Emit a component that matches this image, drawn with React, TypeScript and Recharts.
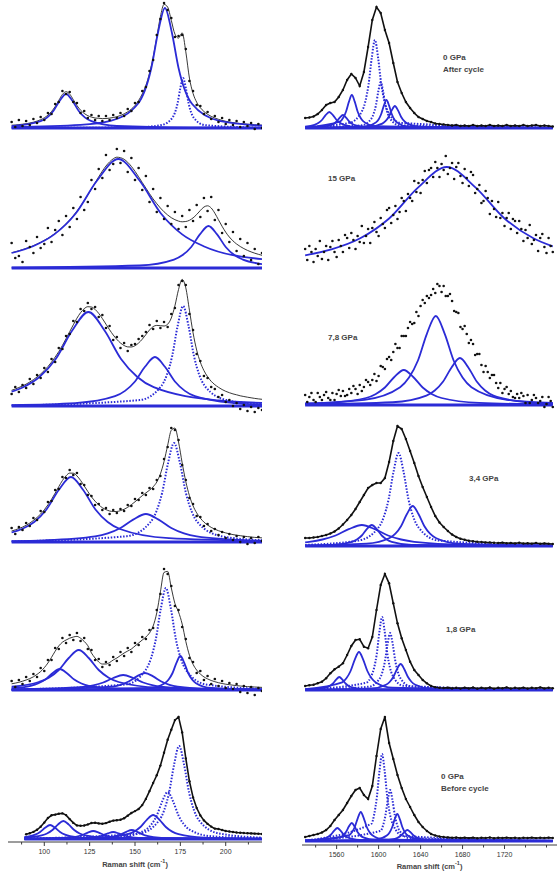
import React from "react";
import { ComposedChart, Line, XAxis, YAxis } from "recharts";

type Pt = [number, number];

// x grids (cm-1)
const X_LEFT = [
  82, 84, 86, 88, 90, 92, 94, 96, 98, 100,
  102, 104, 106, 108, 110, 112, 114, 116, 118, 120,
  122, 124, 126, 128, 130, 132, 134, 136, 138, 140,
  142, 144, 146, 148, 150, 152, 154, 156, 158, 160,
  162, 164, 166, 168, 170, 172, 174, 176, 178, 180,
  182, 184, 186, 188, 190, 192, 194, 196, 198, 200,
  202, 204, 206, 208, 210, 212, 214, 216, 218, 220,
];
const X_RIGHT = [
  1530, 1534, 1538, 1542, 1546, 1550, 1554, 1558, 1562, 1566,
  1570, 1574, 1578, 1582, 1586, 1590, 1594, 1598, 1602, 1606,
  1610, 1614, 1618, 1622, 1626, 1630, 1634, 1638, 1642, 1646,
  1650, 1654, 1658, 1662, 1666, 1670, 1674, 1678, 1682, 1686,
  1690, 1694, 1698, 1702, 1706, 1710, 1714, 1718, 1722, 1726,
  1730, 1734, 1738, 1742, 1746, 1750, 1754, 1758, 1762, 1766,
];
const X_RIGHT_FINE = [
  1530, 1532, 1534, 1536, 1538, 1540, 1542, 1544, 1546, 1548,
  1550, 1552, 1554, 1556, 1558, 1560, 1562, 1564, 1566, 1568,
  1570, 1572, 1574, 1576, 1578, 1580, 1582, 1584, 1586, 1588,
  1590, 1592, 1594, 1596, 1598, 1600, 1602, 1604, 1606, 1608,
  1610, 1612, 1614, 1616, 1618, 1620, 1622, 1624, 1626, 1628,
  1630, 1632, 1634, 1636, 1638, 1640, 1642, 1644, 1646, 1648,
  1650, 1652, 1654, 1656, 1658, 1660, 1662, 1664, 1666, 1668,
  1670, 1672, 1674, 1676, 1678, 1680, 1682, 1684, 1686, 1688,
  1690, 1692, 1694, 1696, 1698, 1700, 1702, 1704, 1706, 1708,
  1710, 1712, 1714, 1716, 1718, 1720, 1722, 1724, 1726, 1728,
  1730, 1732, 1734, 1736, 1738, 1740, 1742, 1744, 1746, 1748,
  1750, 1752, 1754, 1756, 1758, 1760, 1762, 1764, 1766,
];

const LEFT_TICKS = [87.5, 100, 112.5, 125, 137.5, 150, 162.5, 175, 187.5, 200, 212.5];
const LEFT_LABELS = [100, 125, 150, 175, 200];
const RIGHT_TICKS = [1540, 1560, 1580, 1600, 1620, 1640, 1660, 1680, 1700, 1720, 1740, 1760];
const RIGHT_LABELS = [1560, 1600, 1640, 1680, 1720];

// ---- left column (low wavenumber) ----
const L1_DATA = [
  6, 1, 8, 2, 7, 3, 9, 5, 11, 8,
  15, 14, 24, 26, 37, 34, 36, 26, 25, 15,
  17, 10, 13, 8, 12, 7, 12, 8, 13, 10,
  15, 12, 19, 17, 25, 26, 37, 41, 57, 68,
  93, 109, 125, 118, 110, 91, 92, 93, 79, 47,
  37, 23, 22, 14, 16, 9, 12, 6, 10, 4,
  8, 3, 7, 1, 6, 2, 5, -1, 4, 0,
];
const L1_FIT = [
  2.8, 3.0, 3.4, 3.8, 4.3, 5.0, 5.8, 6.9, 8.3, 10.2,
  12.9, 16.5, 21.5, 27.6, 33.6, 36.3, 33.9, 28.3, 22.5, 17.8,
  14.6, 12.3, 10.9, 10.0, 9.7, 9.4, 9.5, 9.9, 10.5, 11.3,
  12.5, 14.1, 16.2, 18.9, 22.5, 27.5, 34.1, 42.6, 54.8, 70.8,
  90.9, 111.3, 123.6, 120.9, 107.7, 93.9, 89.9, 95.2, 76.2, 49.9,
  34.6, 25.8, 20.3, 16.5, 13.7, 11.6, 10.0, 8.7, 7.6, 6.7,
  6.0, 5.4, 4.9, 4.5, 4.1, 3.8, 3.5, 3.2, 3.0, 2.8,
];
const L1_PEAKS: Pt[][] = [
  [[82, 1.8], [98, 6.8], [105, 17], [108.5, 27.2], [112, 34], [115.5, 27.2], [119, 17], [126, 6.8], [140, 2.0], [180, 0.36], [220, 0.14]],
  [[82, 0.9], [120, 3.1], [136.5, 7.1], [151.5, 24], [159, 60], [162.75, 96], [166.5, 120], [170.25, 96], [174, 60], [181.5, 24], [196.5, 7.1], [220, 2.3]],
  [[82, 0.05], [150, 0.6], [164.5, 2.9], [170.5, 10], [173.5, 25], [175, 40], [176.5, 50], [178, 40], [179.5, 25], [182.5, 10], [188.5, 2.9], [220, 0.24]],
];

const L2_DATA = [
  25, 10, 12, 6, 27, 21, 15, 31, 20, 24,
  40, 26, 38, 47, 33, 52, 41, 60, 49, 71,
  58, 66, 88, 79, 99, 90, 113, 98, 104, 119,
  105, 117, 96, 110, 88, 100, 78, 92, 66, 79,
  56, 70, 49, 62, 44, 56, 39, 52, 41, 58,
  47, 63, 51, 70, 57, 71, 48, 58, 35, 44,
  26, 36, 17, 29, 12, 25, 8, 19, 4, 15,
];
const L2_FIT = [
  15.3, 16.2, 17.3, 18.4, 19.6, 20.9, 22.3, 24.0, 25.7, 27.7,
  29.7, 32.1, 34.7, 37.5, 40.7, 44.2, 48.0, 52.3, 56.9, 61.9,
  67.3, 73.0, 79.0, 85.1, 91.2, 96.9, 102.0, 106.1, 109.2, 110.8,
  110.3, 108.7, 105.7, 101.6, 96.7, 91.2, 85.5, 79.9, 74.3, 69.0,
  64.3, 60.0, 56.2, 53.0, 50.3, 48.3, 46.9, 46.2, 46.5, 47.7,
  50.1, 53.5, 57.5, 61.0, 62.2, 60.0, 54.8, 48.2, 41.7, 35.8,
  31.0, 27.1, 24.0, 21.5, 19.4, 17.6, 16.1, 14.8, 13.7, 12.7,
];
const L2_PEAKS: Pt[][] = [
  [[82, 15], [93.8, 21.8], [105.5, 33.6], [117.3, 54.5], [129, 87.2], [140.8, 109], [152.6, 87.2], [164.3, 54.5], [176, 33.6], [187.8, 21.8], [220, 8.8]],
  [[82, 0.3], [152.5, 2.5], [171.5, 8.4], [176.25, 12.9], [181, 21], [185.75, 33.6], [190.5, 42], [195.25, 33.6], [200, 21], [204.75, 12.9], [209.5, 8.4], [220, 3.9]],
];

const L3_DATA = [
  12, 19, 14, 21, 18, 27, 22, 31, 28, 38,
  34, 47, 44, 58, 57, 70, 72, 85, 84, 97,
  95, 103, 97, 99, 89, 91, 78, 80, 66, 69,
  58, 63, 55, 61, 62, 67, 70, 74, 81, 77,
  85, 78, 84, 79, 92, 98, 121, 125, 121, 92,
  76, 52, 45, 30, 28, 19, 17, 9, 11, 4,
  6, 0, 3, -3, 1, -5, -1, -6, -2, -4,
];
const L3_FIT = [
  15.7, 17.0, 18.5, 20.0, 21.9, 24.0, 26.3, 29.0, 32.0, 35.5,
  39.4, 43.9, 48.9, 54.4, 60.6, 67.3, 74.3, 81.2, 87.8, 93.3,
  97.3, 99.3, 99.0, 96.6, 92.6, 87.5, 81.8, 76.2, 71.0, 66.6,
  63.0, 60.5, 59.1, 59.0, 60.3, 63.0, 66.8, 71.4, 76.0, 79.4,
  80.6, 80.3, 80.0, 81.8, 88.0, 100.2, 116.5, 126.6, 118.1, 95.8,
  73.2, 55.9, 43.9, 35.4, 29.3, 24.7, 21.3, 18.7, 16.5, 14.7,
  13.3, 12.1, 11.2, 10.2, 9.5, 8.8, 8.2, 7.6, 7.1, 6.7,
];
const L3_PEAKS: Pt[][] = [
  [[82, 14.4], [88.3, 18.8], [97.3, 29], [106.3, 47], [115.3, 75.2], [124.3, 94], [133.3, 75.2], [142.3, 47], [151.3, 29], [160.3, 18.8], [196.3, 5.5], [220, 3.2]],
  [[82, 0.9], [117, 2.9], [139, 9.8], [144.5, 15.1], [150, 24.5], [155.5, 39.2], [161, 49], [166.5, 39.2], [172, 24.5], [177.5, 15.1], [183, 9.8], [205, 2.9], [220, 1.6]],
  [[82, 0.4], [152.5, 5.9], [164.5, 20], [167.5, 30.8], [170.5, 50], [173.5, 80], [176.5, 100], [179.5, 80], [182.5, 50], [185.5, 30.8], [188.5, 20], [200.5, 5.9], [220, 1.9]],
];

const L4_DATA = [
  14, 8, 15, 12, 19, 16, 24, 22, 31, 30,
  40, 41, 52, 53, 65, 64, 72, 67, 69, 58,
  57, 47, 46, 37, 38, 32, 34, 28, 32, 29,
  33, 31, 37, 36, 43, 42, 49, 47, 54, 53,
  62, 66, 83, 95, 114, 112, 102, 77, 62, 44,
  38, 26, 25, 16, 18, 11, 13, 7, 10, 4,
  8, 2, 6, 0, 5, -2, 4, -1, 5, 1,
];
const L4_FIT = [
  11.0, 12.1, 13.5, 14.9, 16.7, 18.9, 21.5, 24.5, 28.0, 32.2,
  37.1, 42.7, 48.9, 55.4, 61.5, 66.2, 68.9, 68.8, 66.1, 61.6,
  56.1, 50.5, 45.2, 40.8, 37.2, 34.3, 32.4, 31.0, 30.5, 30.5,
  31.4, 32.7, 34.7, 37.3, 40.2, 43.3, 46.3, 49.1, 51.8, 55.2,
  60.0, 68.1, 80.4, 96.7, 111.7, 113.9, 100.0, 79.1, 60.4, 46.3,
  36.2, 29.1, 23.9, 19.9, 17.0, 14.6, 12.8, 11.3, 10.1, 9.1,
  8.2, 7.4, 6.8, 6.3, 5.8, 5.4, 5.0, 4.6, 4.4, 4.1,
];
const L4_PEAKS: Pt[][] = [
  [[82, 9.5], [87.7, 13], [94.45, 20], [101.2, 32.5], [107.95, 52], [114.7, 65], [121.45, 52], [128.2, 32.5], [134.95, 20], [141.7, 13], [168.7, 3.8], [220, 1.05]],
  [[82, 0.97], [100, 1.65], [128, 5.6], [135, 8.6], [142, 14], [149, 22.4], [156, 28], [163, 22.4], [170, 14], [177, 8.6], [184, 5.6], [212, 1.65], [220, 1.3]],
  [[82, 0.5], [145.5, 5.8], [158.5, 19.8], [161.75, 30.5], [165, 49.5], [168.25, 79.2], [171.5, 99], [174.75, 79.2], [178, 49.5], [181.25, 30.5], [184.5, 19.8], [197.5, 5.8], [220, 1.75]],
];

const L5_DATA = [
  9, 3, 10, 6, 13, 9, 16, 13, 22, 19,
  30, 30, 42, 41, 52, 47, 55, 50, 57, 49,
  52, 41, 40, 30, 31, 23, 28, 25, 33, 29,
  38, 34, 42, 38, 47, 45, 53, 51, 60, 62,
  80, 96, 121, 116, 104, 84, 80, 63, 51, 32,
  28, 17, 19, 10, 14, 6, 11, 4, 9, 2,
  7, 1, 6, -2, 4, -3, 3, -5, 2, -1,
];
const L5_FIT = [
  6.2, 6.9, 7.7, 8.8, 10.0, 11.4, 13.2, 15.6, 18.5, 22.3,
  27.0, 32.7, 38.8, 44.1, 47.8, 50.0, 51.8, 53.0, 53.6, 51.8,
  48.6, 44.3, 37.0, 32.0, 28.0, 26.0, 26.0, 27.5, 30.0, 32.0,
  34.5, 37.0, 39.0, 41.0, 44.0, 47.0, 50.0, 53.0, 57.0, 64.0,
  77.2, 98.1, 117.6, 118.6, 102.1, 86.6, 78.0, 66.0, 48.6, 34.8,
  25.7, 19.9, 16.0, 13.1, 11.1, 9.5, 8.3, 7.3, 6.5, 5.8,
  5.3, 4.8, 4.4, 4.0, 3.7, 3.4, 3.2, 3.0, 2.8, 2.6,
];
const L5_PEAKS: Pt[][] = [
  [[82, 1.75], [92.5, 4.2], [96.5, 6.5], [100.5, 10.5], [104.5, 16.8], [108.5, 21], [112.5, 16.8], [116.5, 10.5], [120.5, 6.5], [124.5, 4.2], [140.5, 1.24], [220, 0.1]],
  [[82, 3.25], [97, 8], [102.5, 12.3], [108, 20], [113.5, 32], [119, 40], [124.5, 32], [130, 20], [135.5, 12.3], [141, 8], [163, 2.35], [220, 0.46]],
  [[82, 0.46], [121.5, 3], [127, 4.6], [132.5, 7.5], [138, 12], [143.5, 15], [149, 12], [154.5, 7.5], [160, 4.6], [165.5, 3], [187.5, 0.88], [220, 0.31]],
  [[82, 0.25], [137.5, 3.4], [142, 5.2], [146.5, 8.5], [151, 13.6], [155.5, 17], [160, 13.6], [164.5, 8.5], [169, 5.2], [173.5, 3.4], [191.5, 1.0], [220, 0.35]],
  [[82, 0.43], [145, 5.6], [156, 20.4], [158.75, 31.4], [161.5, 51], [164.25, 81.6], [167, 102], [169.75, 81.6], [172.5, 51], [175.25, 31.4], [178, 20.4], [189, 5.6], [220, 1.08]],
  [[82, 0.07], [157.8, 2.0], [166.4, 6.8], [168.55, 10.5], [170.7, 17], [172.85, 27.2], [175, 34], [177.15, 27.2], [179.3, 17], [181.45, 10.5], [183.6, 6.8], [192.2, 2.0], [220, 0.31]],
];

const L6_DATA: (number | null)[] = [
  null, null, null, null, 4.8, 5.7, 7.1, 9.2, 12.2, 16.4,
  21.0, 23.7, 24.4, 25.2, 25.6, 23.9, 19.9, 16.1, 13.6, 13.3,
  13.5, 14.6, 16.0, 16.3, 15.6, 15.3, 15.9, 17.2, 18.4, 18.8,
  19.2, 20.8, 23.3, 26.0, 27.9, 30.0, 33.9, 40.1, 47.9, 56.0,
  63.7, 73.4, 86.3, 99.2, 109.3, 118.9, 122.1, 106.6, 80.6, 57.7,
  41.6, 31.0, 23.6, 18.6, 15.1, 12.4, 10.4, 10.0, 9.0, 8.0,
  7.5, 7.0, 6.5, 6.3, 6.0, 5.8, 5.6, 5.4, 5.2, 5.0,
];
const L6_PEAKS: Pt[][] = [
  [[89, 1.9], [92.2, 2.8], [94.95, 4.3], [97.7, 7], [100.45, 11.2], [103.2, 14], [105.95, 11.2], [108.7, 7], [111.45, 4.3], [114.2, 2.8], [125.2, 0.82], [220, 0.03]],
  [[89, 1.3], [98.5, 3.6], [101.5, 5.5], [104.5, 9], [107.5, 14.4], [110.5, 18], [113.5, 14.4], [116.5, 9], [119.5, 5.5], [122.5, 3.6], [134.5, 1.06], [220, 0.05]],
  [[89, 0.19], [115, 1.6], [118, 2.46], [121, 4], [124, 6.4], [127, 8], [130, 6.4], [133, 4], [136, 2.46], [139, 1.6], [151, 0.47], [220, 0.03]],
  [[89, 0.1], [126, 1.4], [129, 2.15], [132, 3.5], [135, 5.6], [138, 7], [141, 5.6], [144, 3.5], [147, 2.15], [150, 1.4], [162, 0.41], [220, 0.04]],
  [[89, 0.09], [136.2, 1.8], [139.2, 2.8], [142.2, 4.5], [145.2, 7.2], [148.2, 9], [151.2, 7.2], [154.2, 4.5], [157.2, 2.8], [160.2, 1.8], [172.2, 0.53], [220, 0.06]],
  [[89, 0.23], [132, 1.41], [146, 4.8], [149.5, 7.4], [153, 12], [156.5, 19.2], [160, 24], [163.5, 19.2], [167, 12], [170.5, 7.4], [174, 4.8], [188, 1.41], [220, 0.32]],
  [[89, 0.27], [144, 2.76], [156, 9.4], [159, 14.5], [162, 23.5], [165, 37.6], [168, 47], [171, 37.6], [174, 23.5], [177, 14.5], [180, 9.4], [192, 2.76], [220, 0.61]],
  [[89, 0.39], [152.3, 5.5], [163.3, 18.6], [166.05, 28.6], [168.8, 46.5], [171.55, 74.4], [174.3, 93], [177.05, 74.4], [179.8, 46.5], [182.55, 28.6], [185.3, 18.6], [196.3, 5.5], [220, 1.31]],
];

// ---- right column (G band) ----
const R1_DATA = [
  10, 10.5, 11.5, 14, 18, 23, 25, 26, 31, 38,
  48, 54, 50, 42, 56, 81, 108, 121, 115, 98,
  85, 65, 46, 35, 26, 20, 15, 11, 9, 7,
  6, 4.5, 4, 3.5, 3, 2.5, 3, 2, 2.5, 2,
  3, 2, 2.5, 2, 3, 2, 2.5, 2, 3, 2,
  2.5, 2, 3, 2, 2.5, 3, 2, 2.5, 2, 1.5,
];
const R1_PEAKS: Pt[][] = [
  [[1530, 1.36], [1539, 3.2], [1542.5, 4.9], [1546, 8], [1549.5, 12.8], [1553, 16], [1556.5, 12.8], [1560, 8], [1563.5, 4.9], [1567, 3.2], [1581, 0.94], [1766, 0.02]],
  [[1530, 0.36], [1554, 2.6], [1557, 4], [1560, 6.5], [1563, 10.4], [1566, 13], [1569, 10.4], [1572, 6.5], [1575, 4], [1578, 2.6], [1590, 0.77], [1766, 0.01]],
  [[1530, 0.5], [1563.5, 6.6], [1566.25, 10.2], [1569, 16.5], [1571.75, 26.4], [1574.5, 33], [1577.25, 26.4], [1580, 16.5], [1582.75, 10.2], [1585.5, 6.6], [1596.5, 1.94], [1766, 0.03]],
  [[1530, 0.71], [1572.5, 5.2], [1584.5, 17.6], [1587.5, 27.1], [1590.5, 44], [1593.5, 70.4], [1596.5, 88], [1599.5, 70.4], [1602.5, 44], [1605.5, 27.1], [1608.5, 17.6], [1620.5, 5.2], [1766, 0.11]],
  [[1530, 0.18], [1584, 2.7], [1593, 9.2], [1595.25, 14.2], [1597.5, 23], [1599.75, 36.8], [1602, 46], [1604.25, 36.8], [1606.5, 23], [1608.75, 14.2], [1611, 9.2], [1620, 2.7], [1766, 0.03]],
  [[1530, 0.12], [1587.5, 1.65], [1597.5, 5.6], [1600, 8.6], [1602.5, 14], [1605, 22.4], [1607.5, 28], [1610, 22.4], [1612.5, 14], [1615, 8.6], [1617.5, 5.6], [1627.5, 1.65], [1766, 0.03]],
  [[1530, 0.11], [1591.5, 1.3], [1603.5, 4.4], [1606.5, 6.8], [1609.5, 11], [1612.5, 17.6], [1615.5, 22], [1618.5, 17.6], [1621.5, 11], [1624.5, 6.8], [1627.5, 4.4], [1639.5, 1.3], [1766, 0.03]],
];

const R2_DATA = [
  21, 10, 24, 18, 8, 21, 14, 29, 11, 18,
  24, 10, 23, 29, 18, 13, 30, 24, 18, 35,
  32, 22, 37, 30, 21, 34, 28, 44, 27, 34,
  41, 27, 42, 48, 38, 34, 52, 46, 42, 60,
  62, 47, 55, 64, 51, 58, 72, 69, 59, 76,
  72, 69, 89, 78, 87, 77, 90, 99, 87, 100,
  102, 93, 108, 102, 93, 106, 100, 114, 96, 102,
  107, 91, 103, 107, 94, 87, 101, 92, 84, 98,
  95, 77, 81, 85, 67, 69, 79, 72, 56, 69,
  61, 53, 68, 52, 57, 44, 52, 57, 41, 51,
  49, 37, 49, 41, 29, 40, 32, 45, 26, 30,
  35, 19, 32, 36, 23, 17, 32, 24, 18,
];
const R2_PEAKS: Pt[][] = [
  [[1530, 14.7], [1555, 20.6], [1582.5, 31.7], [1610, 51.5], [1637.5, 82.4], [1665, 103], [1692.5, 82.4], [1720, 51.5], [1747.5, 31.7], [1766, 23.6]],
];

const R3_DATA = [
  10, 3, 8, 12, 5, 3, 12, 8, 5, 10,
  13, 7, 5, 12, 5, 11, 15, 9, 14, 9,
  10, 16, 12, 19, 16, 11, 20, 14, 18, 25,
  23, 20, 25, 31, 24, 29, 39, 38, 36, 46,
  48, 45, 53, 61, 57, 57, 69, 69, 69, 77,
  83, 81, 82, 93, 89, 99, 105, 102, 109, 107,
  110, 116, 112, 121, 119, 113, 119, 109, 109, 111,
  104, 94, 93, 92, 78, 76, 79, 71, 62, 65,
  61, 50, 51, 51, 40, 33, 39, 33, 27, 30,
  30, 22, 17, 22, 12, 16, 18, 11, 14, 8,
  7, 11, 7, 12, 9, 2, 10, 2, 5, 10,
  7, 2, 4, 8, -2, 1, 8, 4, -2,
];
const R3_PEAKS: Pt[][] = [
  [[1530, 1.24], [1552, 2.06], [1588, 7], [1597, 10.8], [1606, 17.5], [1615, 28], [1624, 35], [1633, 28], [1642, 17.5], [1651, 10.8], [1660, 7], [1696, 2.06], [1766, 0.56]],
  [[1530, 1.63], [1586.5, 5.2], [1620.5, 17.8], [1629, 27.4], [1637.5, 44.5], [1646, 71.2], [1654.5, 89], [1663, 71.2], [1671.5, 44.5], [1680, 27.4], [1688.5, 17.8], [1722.5, 5.2], [1766, 2.02]],
  [[1530, 0.55], [1613.5, 2.76], [1645.5, 9.4], [1653.5, 14.5], [1661.5, 23.5], [1669.5, 37.6], [1677.5, 47], [1685.5, 37.6], [1693.5, 23.5], [1701.5, 14.5], [1709.5, 9.4], [1741.5, 2.76], [1766, 1.49]],
];

const R4_DATA = [
  8, 8, 8.5, 9, 10, 11, 12.5, 14.5, 17.5, 21.5,
  26, 31, 37, 44, 51, 58, 61, 63, 63, 68,
  84, 105, 120, 117, 107, 95, 83, 70, 59, 49,
  39, 30, 23.5, 19, 15, 11.5, 9, 7.3, 6.2, 5.3,
  4.7, 4.2, 4, 3.6, 3.5, 3.2, 3, 3.4, 2.8, 3,
  2.6, 3.2, 2.5, 2.8, 2.4, 3, 2.2, 2.6, 2.3, 2,
];
const R4_PEAKS: Pt[][] = [
  [[1530, 3.7], [1534, 4.2], [1546.5, 6.5], [1559, 10.5], [1571.5, 16.8], [1584, 21], [1596.5, 16.8], [1609, 10.5], [1621.5, 6.5], [1634, 4.2], [1684, 1.2], [1766, 0.39]],
  [[1530, 0.46], [1555.5, 1.2], [1574.5, 4.2], [1579.25, 6.5], [1584, 10.5], [1588.75, 16.8], [1593.5, 21], [1598.25, 16.8], [1603, 10.5], [1607.75, 6.5], [1612.5, 4.2], [1631.5, 1.2], [1766, 0.08]],
  [[1530, 1.05], [1581, 5.5], [1600, 18.6], [1604.75, 28.6], [1609.5, 46.5], [1614.25, 74.4], [1619, 93], [1623.75, 74.4], [1628.5, 46.5], [1633.25, 28.6], [1638, 18.6], [1657, 5.5], [1766, 0.39]],
  [[1530, 0.46], [1588.5, 2.35], [1610.5, 8], [1616, 12.3], [1621.5, 20], [1627, 32], [1632.5, 40], [1638, 32], [1643.5, 20], [1649, 12.3], [1654.5, 8], [1676.5, 2.35], [1766, 0.27]],
];

const R5_DATA = [
  4, 4.7, 5.3, 6.7, 8.3, 11.7, 16.7, 20.7, 23.3, 26.7,
  35, 44, 50, 50.7, 43.3, 41.7, 53, 80, 105, 116,
  106.7, 86.7, 66.7, 51.7, 40, 28.3, 20, 15, 10, 6.7,
  4, 2.7, 2.2, 2, 2.4, 1.6, 2.2, 1.5, 2.4, 1.6,
  2.5, 1.4, 2.2, 1.6, 2.5, 1.4, 2.2, 1.8, 2.6, 1.5,
  2.2, 1.6, 2.4, 1.5, 2.2, 1.8, 2.6, 1.6, 2.2, 1.8,
];
const R5_PEAKS: Pt[][] = [
  [[1530, 0.43], [1550.5, 2.6], [1553.5, 4], [1556.5, 6.5], [1559.5, 10.4], [1562.5, 13], [1565.5, 10.4], [1568.5, 6.5], [1571.5, 4], [1574.5, 2.6], [1586.5, 0.76], [1766, 0.01]],
  [[1530, 0.9], [1565.3, 7.6], [1569.3, 11.7], [1573.3, 19], [1577.3, 30.4], [1581.3, 38], [1585.3, 30.4], [1589.3, 19], [1593.3, 11.7], [1597.3, 7.6], [1613.3, 2.24], [1766, 0.07]],
  [[1530, 0.34], [1588.3, 7.3], [1593.3, 14.6], [1595.8, 22.5], [1598.3, 36.5], [1600.8, 58.4], [1603.3, 73], [1605.8, 58.4], [1608.3, 36.5], [1610.8, 22.5], [1613.3, 14.6], [1623.3, 4.3], [1766, 0.07]],
  [[1530, 0.22], [1591, 3.35], [1601, 11.4], [1603.5, 17.5], [1606, 28.5], [1608.5, 45.6], [1611, 57], [1613.5, 45.6], [1616, 28.5], [1618.5, 17.5], [1621, 11.4], [1631, 3.35], [1766, 0.06]],
  [[1530, 0.15], [1593, 1.53], [1607, 5.2], [1610.5, 8], [1614, 13], [1617.5, 20.8], [1621, 26], [1624.5, 20.8], [1628, 13], [1631.5, 8], [1635, 5.2], [1649, 1.53], [1766, 0.06]],
];

const R6_DATA = [
  4, 5, 6, 7, 8.5, 11, 15, 21, 26, 31,
  38, 45, 51, 53, 46, 42, 55, 85, 112, 124,
  98, 82, 66, 53, 42, 34, 26, 19, 14, 10,
  7, 5.5, 4.5, 4, 3.6, 3.2, 3.5, 3, 3.4, 2.9,
  3.4, 2.8, 3.3, 3, 3.5, 2.8, 3.2, 3, 3.4, 2.9,
  3.3, 2.8, 3.2, 3, 3.4, 2.9, 3.2, 3, 3.4, 3,
];
const R6_PEAKS: Pt[][] = [
  [[1530, 0.48], [1548.7, 2.6], [1551.7, 4], [1554.7, 6.5], [1557.7, 10.4], [1560.7, 13], [1563.7, 10.4], [1566.7, 6.5], [1569.7, 4], [1572.7, 2.6], [1584.7, 0.76], [1766, 0.01]],
  [[1530, 0.27], [1563.4, 3.6], [1566.15, 5.5], [1568.9, 9], [1571.65, 14.4], [1574.4, 18], [1577.15, 14.4], [1579.9, 9], [1582.65, 5.5], [1585.4, 3.6], [1596.4, 1.06], [1766, 0.01]],
  [[1530, 0.31], [1572, 5.8], [1574.75, 8.9], [1577.5, 14.5], [1580.25, 23.2], [1583, 29], [1585.75, 23.2], [1588.5, 14.5], [1591.25, 8.9], [1594, 5.8], [1605, 1.7], [1766, 0.03]],
  [[1530, 0.4], [1593.3, 17.4], [1595.8, 26.8], [1598.3, 43.5], [1600.8, 69.6], [1603.3, 87], [1605.8, 69.6], [1608.3, 43.5], [1610.8, 26.8], [1613.3, 17.4], [1623.3, 5.1], [1766, 0.08]],
  [[1530, 0.16], [1602, 10.2], [1604.25, 15.7], [1606.5, 25.5], [1608.75, 40.8], [1611, 51], [1613.25, 40.8], [1615.5, 25.5], [1617.75, 15.7], [1620, 10.2], [1629, 3], [1766, 0.04]],
  [[1530, 0.09], [1597.8, 1.6], [1607.8, 5.4], [1610.3, 8.3], [1612.8, 13.5], [1615.3, 21.6], [1617.8, 27], [1620.3, 21.6], [1622.8, 13.5], [1625.3, 8.3], [1627.8, 5.4], [1637.8, 1.6], [1766, 0.03]],
  [[1530, 0.04], [1603.4, 0.65], [1615.4, 2.2], [1618.4, 3.4], [1621.4, 5.5], [1624.4, 8.8], [1627.4, 11], [1630.4, 8.8], [1633.4, 5.5], [1636.4, 3.4], [1639.4, 2.2], [1651.4, 0.65], [1766, 0.02]],
];

// zero-intensity level under each fit
const FLOOR_L: Pt[] = [[82, 0], [220, 0]];
const FLOOR_L6: Pt[] = [[89, 0], [220, 0]];
const FLOOR_R: Pt[] = [[1530, 0], [1766, 0]];

const PRESSURE_NOTES = [
  ["0 GPa", "After cycle"],
  ["15 GPa"],
  ["7,8 GPa"],
  ["3,4 GPa"],
  ["1,8 GPa"],
  ["0 GPa", "Before cycle"],
];

// ---- layout / style ----
const FONT = "Arial, 'Liberation Sans', Helvetica, sans-serif";
const BLUE = "#2b2bd6";
const INK = "#111";
const NOTE_POS = [
  { left: 443, top: 52 },
  { left: 328, top: 173 },
  { left: 328, top: 332 },
  { left: 469, top: 473 },
  { left: 446, top: 624 },
  { left: 441, top: 771 },
];

type Spec = {
  id: string;
  side: "L" | "R";
  base: number;
  grid: number[];
  data: (number | null)[];
  fit?: number[];
  peaks: Pt[][];
  dotted: number[];
  trace: boolean;
  floor?: Pt[];
  axisY?: number;
};

const PANELS: Spec[] = [
  { id: "l1", side: "L", base: 128, grid: X_LEFT, data: L1_DATA, fit: L1_FIT, peaks: L1_PEAKS, dotted: [2], trace: false, floor: FLOOR_L },
  { id: "l2", side: "L", base: 268, grid: X_LEFT, data: L2_DATA, fit: L2_FIT, peaks: L2_PEAKS, dotted: [], trace: false, floor: FLOOR_L },
  { id: "l3", side: "L", base: 406, grid: X_LEFT, data: L3_DATA, fit: L3_FIT, peaks: L3_PEAKS, dotted: [2], trace: false, floor: FLOOR_L },
  { id: "l4", side: "L", base: 542, grid: X_LEFT, data: L4_DATA, fit: L4_FIT, peaks: L4_PEAKS, dotted: [2], trace: false, floor: FLOOR_L },
  { id: "l5", side: "L", base: 690, grid: X_LEFT, data: L5_DATA, fit: L5_FIT, peaks: L5_PEAKS, dotted: [4], trace: false, floor: FLOOR_L },
  { id: "l6", side: "L", base: 839, grid: X_LEFT, data: L6_DATA, peaks: L6_PEAKS, dotted: [6, 7], trace: true, floor: FLOOR_L6, axisY: 842 },
  { id: "r1", side: "R", base: 128, grid: X_RIGHT, data: R1_DATA, peaks: R1_PEAKS, dotted: [3, 4], trace: true, floor: FLOOR_R },
  { id: "r2", side: "R", base: 270, grid: X_RIGHT_FINE, data: R2_DATA, peaks: R2_PEAKS, dotted: [], trace: false },
  { id: "r3", side: "R", base: 405, grid: X_RIGHT_FINE, data: R3_DATA, peaks: R3_PEAKS, dotted: [], trace: false, floor: FLOOR_R },
  { id: "r4", side: "R", base: 546, grid: X_RIGHT, data: R4_DATA, peaks: R4_PEAKS, dotted: [2], trace: true, floor: FLOOR_R },
  { id: "r5", side: "R", base: 690, grid: X_RIGHT, data: R5_DATA, peaks: R5_PEAKS, dotted: [2, 3], trace: true, floor: FLOOR_R },
  { id: "r6", side: "R", base: 841, grid: X_RIGHT, data: R6_DATA, peaks: R6_PEAKS, dotted: [3, 4], trace: true, floor: FLOOR_R, axisY: 845 },
];

const toRows = (pts: Pt[]) => pts.map(([x, y]) => ({ x, y }));

function AxisTick(props: any) {
  const { x, y, payload, labels } = props;
  const major = labels.includes(payload.value);
  return (
    <g>
      <line x1={x} x2={x} y1={y} y2={y + (major ? 4 : 2.5)} stroke="#3a3a3a" strokeWidth={1} />
      {major && (
        <text x={x} y={y + 11.5} textAnchor="middle" fontSize={7} fill="#333" fontFamily={FONT}>
          {payload.value}
        </text>
      )}
    </g>
  );
}

function Panel({ s }: { s: Spec }) {
  const isL = s.side === "L";
  const hasAxis = s.axisY !== undefined;
  const below = hasAxis ? (s.axisY as number) - s.base : 12;
  const plotH = 128 + below;
  const height = hasAxis ? plotH + 26 : plotH;
  const rows = s.grid
    .map((x, i) => ({ x, y: s.data[i] }))
    .filter((r) => r.y !== null && r.y !== undefined);
  const fitRows = s.fit ? s.grid.map((x, i) => ({ x, y: s.fit![i] })) : null;

  return (
    <div style={{ position: "absolute", left: isL ? 8 : 302, top: s.base - 128 }}>
      <ComposedChart
        width={isL ? 254 : 255}
        height={height}
        data={rows}
        margin={{ top: 0, right: 0, bottom: 0, left: 0 }}
      >
        <XAxis
          dataKey="x"
          type="number"
          domain={isL ? [80, 220] : [1527, 1770]}
          allowDataOverflow
          hide={!hasAxis}
          height={26}
          ticks={isL ? LEFT_TICKS : RIGHT_TICKS}
          interval={0}
          tickSize={0}
          tickMargin={0}
          tickLine={false}
          axisLine={{ stroke: "#3a3a3a", strokeWidth: 1 }}
          tick={(p: any) => <AxisTick {...p} labels={isL ? LEFT_LABELS : RIGHT_LABELS} />}
        />
        <YAxis type="number" domain={[-below, 128]} allowDataOverflow hide />
        {fitRows && (
          <Line
            data={fitRows}
            dataKey="y"
            type="monotone"
            stroke="#222"
            strokeWidth={0.9}
            dot={false}
            activeDot={false}
            isAnimationActive={false}
          />
        )}
        {s.floor && (
          <Line
            data={toRows(s.floor)}
            dataKey="y"
            type="linear"
            stroke={BLUE}
            strokeWidth={3}
            dot={false}
            activeDot={false}
            isAnimationActive={false}
          />
        )}
        {s.peaks.map((pk, i) => {
          const dotted = s.dotted.includes(i);
          return (
            <Line
              key={i}
              data={toRows(pk)}
              dataKey="y"
              type="monotone"
              stroke={BLUE}
              strokeWidth={dotted ? 2 : 1.8}
              strokeDasharray={dotted ? "1.5 1.6" : undefined}
              dot={false}
              activeDot={false}
              isAnimationActive={false}
            />
          );
        })}
        <Line
          dataKey="y"
          type="linear"
          stroke={s.trace ? INK : "none"}
          strokeWidth={s.trace ? 1.6 : 0}
          dot={{ r: s.trace ? 1.2 : 1.3, fill: INK, stroke: "none" }}
          activeDot={false}
          isAnimationActive={false}
        />
      </ComposedChart>
    </div>
  );
}

export default function App() {
  return (
    <div
      style={{
        position: "absolute",
        left: 0,
        top: 0,
        width: 557,
        height: 874,
        background: "#fff",
        overflow: "hidden",
        fontFamily: FONT,
      }}
    >
      {PANELS.map((s) => (
        <Panel key={s.id} s={s} />
      ))}

      {PRESSURE_NOTES.map((lines, i) => (
        <div
          key={i}
          style={{
            position: "absolute",
            left: NOTE_POS[i].left,
            top: NOTE_POS[i].top,
            fontSize: 8,
            lineHeight: "12px",
            fontWeight: 700,
            color: "#444",
            whiteSpace: "nowrap",
          }}
        >
          {lines.map((t) => (
            <div key={t}>{t}</div>
          ))}
        </div>
      ))}

      <div style={{ position: "absolute", left: 8, top: 856, width: 254, textAlign: "center", fontSize: 7.5, fontWeight: 700, color: "#444", lineHeight: "10px" }}>
        Raman shift (cm<sup style={{ fontSize: 5.5 }}>-1</sup>)
      </div>
      <div style={{ position: "absolute", left: 302, top: 858, width: 255, textAlign: "center", fontSize: 7.5, fontWeight: 700, color: "#444", lineHeight: "10px" }}>
        Raman shift (cm<sup style={{ fontSize: 5.5 }}>-1</sup>)
      </div>
    </div>
  );
}
